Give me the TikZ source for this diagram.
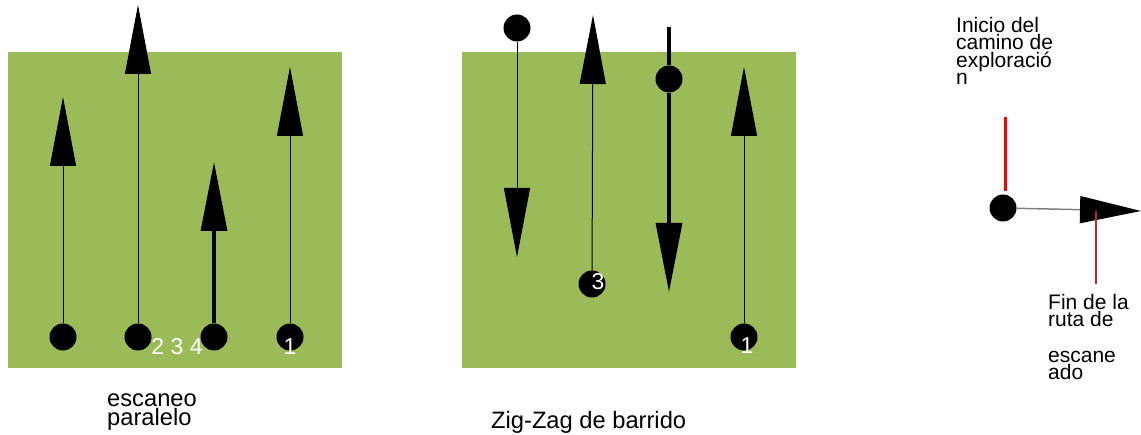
\documentclass[tikz,border=0pt]{standalone}
\usepackage{fontspec}
\setmainfont{Liberation Sans}
\usetikzlibrary{arrows.meta}
\definecolor{field}{RGB}{155,187,89}
\definecolor{pointerred}{RGB}{195,35,45}
\definecolor{linkgray}{RGB}{128,128,128}
\tikzset{
  blob/.style={circle, fill=black, minimum size=27pt, inner sep=0pt},
  thinpath/.style={line width=1pt, black},
  boldpath/.style={line width=3.2pt, black},
  arr/.style={-{Triangle[length=69pt 0 0, width=26pt 0 0]}},
  numlabel/.style={text=white, font=\fontsize{23}{23}\selectfont, inner sep=0pt, anchor=base},
  caption/.style={anchor=base west, align=left, inner sep=0pt, font=\fontsize{23.7}{19}\selectfont},
  sidetext/.style={anchor=base west, align=left, inner sep=0pt, font=\fontsize{21}{17.6}\selectfont},
}
\begin{document}
\begin{tikzpicture}[x=1pt,y=-1pt]
\useasboundingbox (0,0) rectangle (1141,435);
% fields
\fill[field] (8,52) rectangle (342,368);
\fill[field] (462,52) rectangle (796,368);

% ---- parallel scan ----
\node[blob] (p1) at (63,337) {};
\node[blob] (p2) at (138,337) {};
\node[blob] (p3) at (214,337) {};
\node[blob] (p4) at (290,337) {};
\coordinate (t1) at (63,97);
\coordinate (t2) at (138,5);
\coordinate (t3) at (214,162);
\coordinate (t4) at (290,67);
\draw[thinpath, arr] (p1) -- (t1);
\draw[thinpath, arr] (p2) -- (t2);
\draw[boldpath, arr] (p3) -- (t3);
\draw[thinpath, arr] (p4) -- (t4);
\node[numlabel] (n234) at (177,355) {2 3 4};
\node[numlabel] (n1a) at (290,355) {1};
\node[caption] (cap1) at (107,426) {escaneo\\paralelo};

% ---- zig-zag ----
\node[blob] (za) at (517,28) {};
\coordinate (zat) at (517,257);
\draw[thinpath, arr] (za) -- (zat);
\node[blob] (zb) at (592,284) {};
\coordinate (zbt) at (593,15);
\draw[thinpath, arr] (zb) -- (zbt);
\coordinate (zctop) at (669,27);
\node[blob] (zc) at (669,79) {};
\coordinate (zct) at (669,292);
\draw[boldpath] (zctop) -- (zc);
\draw[boldpath, arr] (zc) -- (zct);
\node[blob] (zd) at (744,337) {};
\coordinate (zdt) at (744,67);
\draw[thinpath, arr] (zd) -- (zdt);
\node[numlabel] (n3) at (598,290) {3};
\node[numlabel] (n1b) at (747,354) {1};
\node[caption] (cap2) at (491,429) {Zig-Zag de barrido};

% ---- legend ----
\node[sidetext] (start) at (956,85) {Inicio del\\camino de\\exploració\\n};
\node[blob] (ls) at (1003,208) {};
\coordinate (le) at (1141,211);
\draw[line width=1.5pt, linkgray, -{Triangle[length=61pt 0 0, width=27pt 0 0, color=black]}] (ls) -- (le);
\coordinate (r1a) at (1005,117);
\coordinate (r1b) at (1005,191);
\draw[red, line width=3pt] (r1a) -- (r1b);
\coordinate (r2a) at (1096,211);
\coordinate (r2b) at (1096,284);
\draw[pointerred, line width=1.5pt] (r2a) -- (r2b);
\node[sidetext] (finish) at (1048,380) {Fin de la\\ruta de\\[18pt]escane\\ado};
\end{tikzpicture}
\end{document}
